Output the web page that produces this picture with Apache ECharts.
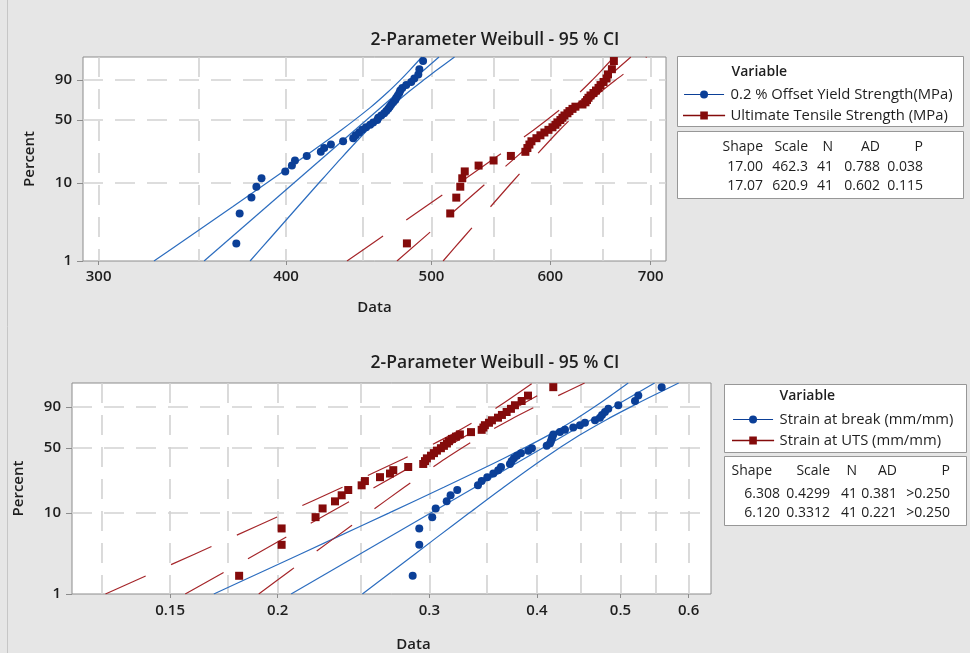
<!DOCTYPE html>
<html><head><meta charset="utf-8">
<script src="https://cdn.jsdelivr.net/npm/echarts@6/dist/echarts.min.js"></script>
<style>html,body{margin:0;padding:0;background:#e6e6e6;}#c{width:970px;height:653px;}</style>
</head><body><div id="c"></div>
<script>
// ---------- data ----------
// plotting positions (percent) of the 41 ordered observations (same for every sample)
const percents = [1.691, 4.106, 6.522, 8.937, 11.353, 13.768, 16.184, 18.599, 21.014, 23.430,
  25.845, 28.261, 30.676, 33.092, 35.507, 37.923, 40.338, 42.754, 45.169, 47.585, 50.000,
  52.415, 54.831, 57.246, 59.662, 62.077, 64.493, 66.908, 69.324, 71.739, 74.155, 76.570,
  78.986, 81.401, 83.816, 86.232, 88.647, 91.063, 93.478, 95.894, 98.309];

// top panel (MPa)
const yieldStrength = [370.6, 372.5, 379.3, 382.2, 385.2, 399.5, 403.6, 405.5, 412.9, 421.9,
  424.1, 428.5, 436.6, 443.4, 445.1, 447.5, 449.6, 452.3, 455.1, 457.2, 460.1, 460.8, 462.9,
  465.0, 466.5, 467.9, 469.0, 470.1, 471.5, 473.0, 473.7, 474.8, 475.9, 476.6, 478.1, 481.0,
  484.7, 487.0, 490.0, 490.8, 493.6];
const uts = [481.5, 514.6, 519.4, 522.6, 524.2, 526.2, 537.5, 550.0, 564.8, 577.5, 579.3,
  581.1, 582.9, 587.4, 591.0, 594.6, 598.3, 602.0, 604.8, 606.6, 609.4, 611.3, 613.2, 616.0,
  617.9, 620.8, 623.6, 630.4, 633.3, 634.8, 636.2, 638.2, 641.1, 643.6, 646.1, 648.1, 651.1,
  654.1, 655.6, 659.5, 661.5];

// bottom panel (mm/mm)
const strainBreak = [0.2869, 0.2920, 0.2920, 0.3023, 0.3051, 0.3142, 0.3175, 0.3232, 0.3416,
  0.3450, 0.3502, 0.3559, 0.3606, 0.3633, 0.3721, 0.3738, 0.3761, 0.3791, 0.3832, 0.3908,
  0.3946, 0.4105, 0.4141, 0.4152, 0.4160, 0.4169, 0.4178, 0.4253, 0.4311, 0.4407, 0.4487,
  0.4547, 0.4671, 0.4733, 0.4759, 0.4797, 0.4840, 0.4971, 0.5198, 0.5244, 0.5582];
const strainUTS = [0.1804, 0.2021, 0.2021, 0.2213, 0.2255, 0.2331, 0.2373, 0.2415, 0.2503,
  0.2525, 0.2629, 0.2700, 0.2724, 0.2835, 0.2951, 0.2965, 0.2980, 0.3013, 0.3037, 0.3061,
  0.3094, 0.3119, 0.3144, 0.3161, 0.3186, 0.3221, 0.3255, 0.3353, 0.3450, 0.3466, 0.3480,
  0.3518, 0.3546, 0.3604, 0.3642, 0.3688, 0.3731, 0.3771, 0.3839, 0.3905, 0.4178];

// fitted lines: value at 1 % and at 99 %
const fitPct = [1, 99];
const yieldFit = [352.7, 505.8];
const utsFit = [474.2, 679.0];
const breakFit = [0.2073, 0.5477];
const strainUtsFit = [0.1562, 0.4251];

// 95 % confidence bounds read at these percents
const ciPct = [1, 2, 5, 10, 20, 40, 63.2, 80, 90, 95, 99];
const yieldLo = [326.6, 344.0, 368.5, 388.5, 410.4, 435.2, 454.9, 467.7, 476.6, 482.8, 492.7];
const yieldHi = [378.5, 390.6, 407.3, 420.8, 435.5, 453.0, 469.2, 482.6, 494.0, 502.8, 518.0];
const utsLo = [439.2, 462.4, 495.3, 522.1, 551.3, 584.6, 611.0, 628.1, 639.9, 648.3, 661.5];
const utsHi = [509.0, 525.0, 547.4, 565.4, 585.1, 608.5, 630.2, 648.2, 663.3, 675.2, 695.5];
const breakLo = [0.1686, 0.1938, 0.2333, 0.2691, 0.3118, 0.3653, 0.4116, 0.4436, 0.4666, 0.4832, 0.5105];
const breakHi = [0.2508, 0.2729, 0.3055, 0.3336, 0.3659, 0.4070, 0.4474, 0.4828, 0.5140, 0.5392, 0.5842];
const strainUtsLo = [0.1262, 0.1457, 0.1764, 0.2043, 0.2378, 0.2800, 0.3167, 0.3421, 0.3604, 0.3736, 0.3953];
const strainUtsHi = [0.1901, 0.2073, 0.2329, 0.2550, 0.2805, 0.3130, 0.3451, 0.3733, 0.3981, 0.4183, 0.4543];

// axes
const topXLabels = [300, 400, 500, 600, 700];
const topXGrid = [300, 350, 400, 450, 500, 550, 600, 650, 700];
const topXRange = [292.9, 716.6];
const botXLabels = [0.15, 0.2, 0.3, 0.4, 0.5, 0.6];
const botXGrid = [0.125, 0.15, 0.175, 0.2, 0.25, 0.3, 0.35, 0.4, 0.45, 0.5, 0.55, 0.6];
const botXRange = [0.1154, 0.6369];
const yLabels = [1, 10, 50, 90];
const yGrid = [10, 50, 90];
const pctRange = [1, 99];

// texts
const titleText = '2-Parameter Weibull - 95 % CI';
const topNames = ['0.2 % Offset Yield Strength(MPa)', 'Ultimate Tensile Strength (MPa)'];
const botNames = ['Strain at break (mm/mm)', 'Strain at UTS (mm/mm)'];
const statHeader = ['Shape', 'Scale', 'N', 'AD', 'P'];
const topStats = [['17.00', '462.3', '41', '0.788', '0.038'], ['17.07', '620.9', '41', '0.602', '0.115']];
const botStats = [['6.308', '0.4299', '41', '0.381', '>0.250'], ['6.120', '0.3312', '41', '0.221', '>0.250']];

// ---------- chart ----------
const chart = echarts.init(document.getElementById('c'), null, { renderer: 'canvas', width: 970, height: 653 });
const FONT = '"Open Sans", "Noto Sans", sans-serif';
const BLUE_PT = '#0b3f97', BLUE_LN = '#2c6dbf', RED_PT = '#840b0b', RED_LN = '#a5262a';
const GRID_C = '#d2d2d2', FRAME_C = '#8c8c8c', TXT = '#1e1e1e';
const tx = v => Math.log(v);
const ty = p => Math.log(-Math.log(1 - p / 100));
const pairs = (vals, pcts) => vals.map((v, i) => [tx(v), ty(pcts[i])]);
const ICON_C = 'path://M0,3.4L40,3.4L40,4.6L0,4.6Z M16,4A4,4 0 1,1 24,4A4,4 0 1,1 16,4Z';
const ICON_S = 'path://M0,3.4L40,3.4L40,4.6L0,4.6Z M16.4,0.2L23.6,0.2L23.6,7.8L16.4,7.8Z';

const panels = [
  { grid: { left: 83, top: 57, width: 583, height: 204 }, xRange: topXRange, xLabels: topXLabels,
    xGrid: topXGrid, nameGap: 39, namePad: [0, 0, 0, 0], yNameGap: 46, xLabelMargin: 8,
    vars: [
      { name: topNames[0], vals: yieldStrength, fit: yieldFit, lo: yieldLo, hi: yieldHi, pt: BLUE_PT, ln: BLUE_LN, symbol: 'circle', size: 8, dash: 'solid' },
      { name: topNames[1], vals: uts, fit: utsFit, lo: utsLo, hi: utsHi, pt: RED_PT, ln: RED_LN, symbol: 'rect', size: 8, dash: [44, 28] }
    ] },
  { grid: { left: 72, top: 383, width: 639, height: 212 }, xRange: botXRange, xLabels: botXLabels,
    xGrid: botXGrid, nameGap: 43, namePad: [0, 0, 0, 44], yNameGap: 46, xLabelMargin: 9,
    vars: [
      { name: botNames[0], vals: strainBreak, fit: breakFit, lo: breakLo, hi: breakHi, pt: BLUE_PT, ln: BLUE_LN, symbol: 'circle', size: 8, dash: 'solid' },
      { name: botNames[1], vals: strainUTS, fit: strainUtsFit, lo: strainUtsLo, hi: strainUtsHi, pt: RED_PT, ln: RED_LN, symbol: 'rect', size: 8, dash: [44, 28] }
    ] }
];

const grids = [], xAxes = [], yAxes = [], series = [];
const labelFmt = (list, f) => v => { const l = list.find(a => Math.abs(f(a) - v) < 1e-6); return l == null ? '' : String(l); };
const gridLine = { show: true, lineStyle: { color: GRID_C, width: 1.6, type: [20, 12] } };

panels.forEach((P, g) => {
  grids.push(Object.assign({ show: true, backgroundColor: '#ffffff', borderColor: FRAME_C, borderWidth: 1, containLabel: false }, P.grid));
  const xMin = tx(P.xRange[0]), xMax = tx(P.xRange[1]);
  const yMin = ty(pctRange[0]), yMax = ty(pctRange[1]);
  const xl = P.xLabels.map(tx), yl = yLabels.map(ty);
  xAxes.push({ type: 'value', gridIndex: g, min: xMin, max: xMax, position: 'bottom',
    axisLine: { show: false, onZero: false },
    axisTick: { show: true, customValues: xl, length: 4, lineStyle: { color: FRAME_C } },
    axisLabel: { customValues: xl, formatter: labelFmt(P.xLabels, tx), margin: P.xLabelMargin, color: TXT, fontSize: 15, fontWeight: 600, fontFamily: FONT },
    splitLine: { show: false },
    name: 'Data', nameLocation: 'middle', nameGap: P.nameGap,
    nameTextStyle: { color: TXT, fontSize: 15, fontWeight: 600, fontFamily: FONT, padding: P.namePad } });
  xAxes.push({ type: 'value', gridIndex: g, min: xMin, max: xMax, position: 'bottom',
    axisLine: { show: false, onZero: false }, axisLabel: { show: false },
    axisTick: { show: false, length: 0, customValues: P.xGrid.map(tx) },
    splitLine: gridLine });
  yAxes.push({ type: 'value', gridIndex: g, min: yMin, max: yMax, position: 'left',
    axisLine: { show: false, onZero: false },
    axisTick: { show: true, customValues: yl, length: 6, lineStyle: { color: FRAME_C } },
    axisLabel: { customValues: yl, formatter: labelFmt(yLabels, ty), margin: 11, color: TXT, fontSize: 15, fontWeight: 600, fontFamily: FONT },
    splitLine: { show: false },
    name: 'Percent', nameLocation: 'middle', nameGap: P.yNameGap,
    nameTextStyle: { color: TXT, fontSize: 15, fontWeight: 600, fontFamily: FONT } });
  yAxes.push({ type: 'value', gridIndex: g, min: yMin, max: yMax, position: 'left',
    axisLine: { show: false, onZero: false }, axisLabel: { show: false },
    axisTick: { show: false, length: 0, customValues: yGrid.map(ty) },
    splitLine: gridLine });

  const xi = g * 2, yi = g * 2;
  P.vars.forEach(V => {
    const lineOpt = (id, data, sm) => ({ type: 'line', id: id, xAxisIndex: xi, yAxisIndex: yi, data: data,
      symbol: 'none', showSymbol: false, smooth: sm, silent: true, z: 2,
      lineStyle: { color: V.ln, width: 1.2, type: V.dash } });
    series.push(lineOpt(V.name + ' fit', pairs(V.fit, fitPct), false));
    series.push(lineOpt(V.name + ' lower', pairs(V.lo, ciPct), 0.25));
    series.push(lineOpt(V.name + ' upper', pairs(V.hi, ciPct), 0.25));
  });
  P.vars.forEach(V => {
    series.push({ type: 'scatter', name: V.name, xAxisIndex: xi, yAxisIndex: yi,
      data: pairs(V.vals, percents), symbol: V.symbol, symbolSize: V.size, z: 3,
      itemStyle: { color: V.pt, opacity: 1 } });
  });
});

const legendBase = { orient: 'vertical', itemWidth: 43, itemHeight: 8, itemGap: 6, padding: 0, selectedMode: false, z: 20,
  textStyle: { color: TXT, fontSize: 14.8, fontFamily: FONT } };
const legends = [
  Object.assign({}, legendBase, { left: 683, top: 87, data: [{ name: topNames[0], icon: ICON_C }, { name: topNames[1], icon: ICON_S }] }),
  Object.assign({}, legendBase, { left: 732, top: 412, data: [{ name: botNames[0], icon: ICON_C }, { name: botNames[1], icon: ICON_S }] })
];

const G = [];
const txt = (x, y, s, align, size, weight) => ({ type: 'text', x: x, y: y, silent: true, z: 10,
  style: { text: s, fill: TXT, font: (weight || 'normal') + ' ' + size + 'px ' + FONT, textAlign: align, textVerticalAlign: 'middle' } });
const box = (x, y, w, h) => ({ type: 'rect', silent: true, z: -1, shape: { x: x, y: y, width: w, height: h },
  style: { fill: '#ffffff', stroke: '#979797', lineWidth: 1 } });
G.push({ type: 'line', silent: true, z: -1, shape: { x1: 7.5, y1: 0, x2: 7.5, y2: 653 }, style: { stroke: '#c6c6c6', lineWidth: 1 } });
G.push(txt(495, 40, titleText, 'center', 17.5, 600));
G.push(txt(495, 363, titleText, 'center', 17.5, 600));
G.push(box(677.5, 56.5, 286, 70));
G.push(box(677.5, 131.5, 286, 67));
G.push(box(724.5, 384.5, 242, 68));
G.push(box(724.5, 456.5, 242, 69));
G.push(txt(731.5, 72, 'Variable', 'left', 14, 600));
G.push(txt(779.5, 396.5, 'Variable', 'left', 14, 600));
const topCols = [763, 808, 833, 880, 923];
const botHeadCols = [772, 830, 857, 897, 950];
const botCols = [780, 830, 857, 897, 950];
statHeader.forEach((h, i) => { G.push(txt(topCols[i], 147, h, 'right', 14, 500)); G.push(txt(botHeadCols[i], 471, h, 'right', 14, 500)); });
topStats.forEach((r, j) => r.forEach((c, i) => G.push(txt(topCols[i], 167 + j * 19.5, c, 'right', 14, 500))));
botStats.forEach((r, j) => r.forEach((c, i) => G.push(txt(botCols[i], 494 + j * 19.5, c, 'right', 14, 500))));

chart.setOption({
  backgroundColor: '#e6e6e6',
  animation: false,
  grid: grids, xAxis: xAxes, yAxis: yAxes, series: series, legend: legends,
  graphic: { elements: G }
});
</script></body></html>
